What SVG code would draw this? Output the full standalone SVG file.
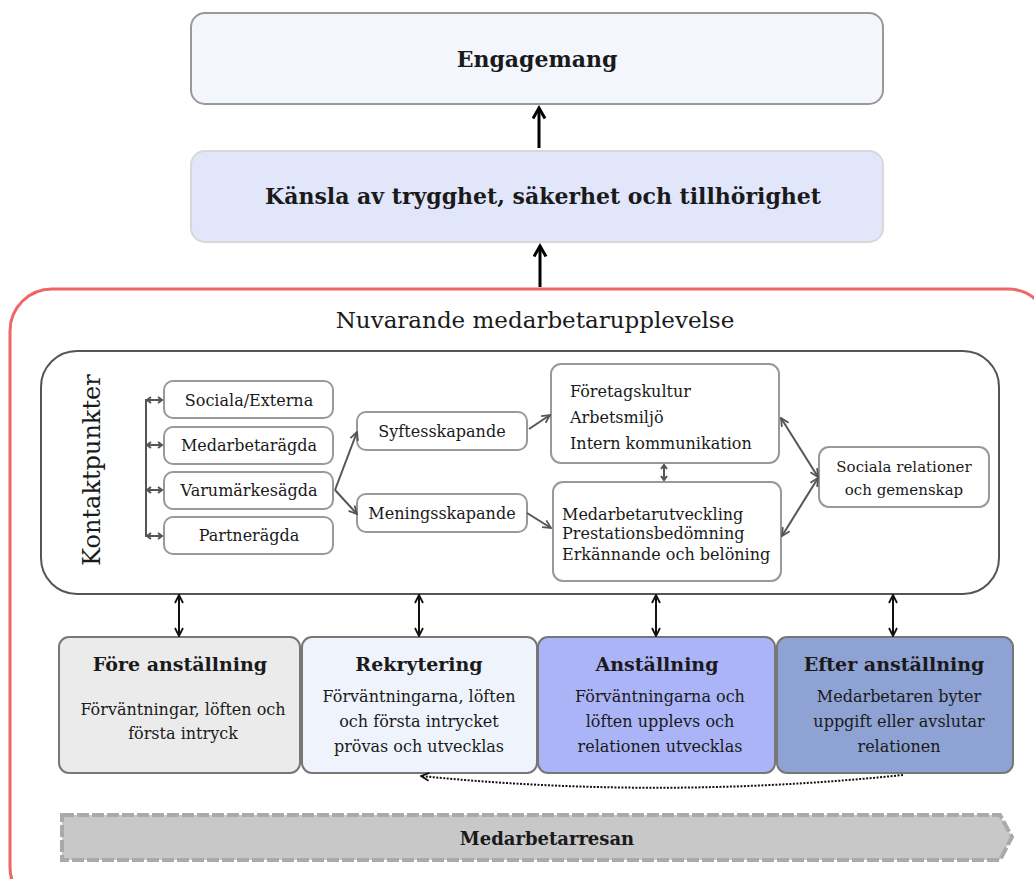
<svg xmlns="http://www.w3.org/2000/svg" width="1034" height="879" viewBox="0 0 1034 879">
<defs>
<style>
text{font-family:"DejaVu Serif","Liberation Serif",serif;fill:#1a1a1a}
.b{font-weight:bold}
.s{font-size:16px}
.c{text-anchor:middle}
.sb{fill:#fff;stroke:#999;stroke-width:2}
.gl{stroke:#555;stroke-width:2;fill:none}
.bk{stroke:#111;stroke-width:2;fill:none}
.ph{stroke:#777;stroke-width:2}
</style>
<marker id="ag" viewBox="0 0 10 10" refX="9" refY="5" markerWidth="5" markerHeight="5" orient="auto-start-reverse"><path d="M1,1 L9,5 L1,9" fill="none" stroke="#555" stroke-width="1.8"/></marker>
<marker id="ab" viewBox="0 0 10 10" refX="9" refY="5" markerWidth="5" markerHeight="5" orient="auto-start-reverse"><path d="M1,1 L9,5 L1,9" fill="none" stroke="#111" stroke-width="1.8"/></marker>
<marker id="abig" viewBox="0 0 10 10" refX="8" refY="5" markerWidth="5" markerHeight="5" orient="auto"><path d="M1,1 L8,5 L1,9" fill="none" stroke="#000" stroke-width="2"/></marker>
</defs>
<rect width="1034" height="879" fill="#fff"/>

<g id="engagemang">
<rect x="191" y="13" width="692" height="91" rx="14" fill="#f3f6fc" stroke="#999" stroke-width="2"/>
<text x="537" y="67" class="b c" font-size="22">Engagemang</text>
</g>
<g id="kansla">
<rect x="191" y="151" width="692" height="91" rx="14" fill="#e1e6fa" stroke="#d8d8d8" stroke-width="2"/>
<text x="543" y="204" class="b c" font-size="22">Känsla av trygghet, säkerhet och tillhörighet</text>
</g>

<g id="nuvarande">
<rect x="10" y="289" width="1040" height="620" rx="42" fill="none" stroke="#ee6666" stroke-width="3"/>
<text x="535" y="328" class="c" font-size="23">Nuvarande medarbetarupplevelse</text>
</g>

<g id="kontaktpunkter">
<rect x="41" y="351" width="958" height="243" rx="36" fill="#fff" stroke="#555" stroke-width="2"/>
<text transform="translate(100,470) rotate(-90)" class="c" font-size="24">Kontaktpunkter</text>
</g>

<g id="sociala-externa"><rect class="sb" x="164" y="381" width="169" height="37" rx="9"/><text x="249" y="406" class="c s">Sociala/Externa</text></g>
<g id="medarbetaragda"><rect class="sb" x="164" y="427" width="169" height="37" rx="9"/><text x="249" y="451" class="c s">Medarbetarägda</text></g>
<g id="varumarkesagda"><rect class="sb" x="164" y="472" width="169" height="37" rx="9"/><text x="249" y="496" class="c s">Varumärkesägda</text></g>
<g id="partneragda"><rect class="sb" x="164" y="517" width="169" height="37" rx="9"/><text x="249" y="541" class="c s">Partnerägda</text></g>

<g id="syftesskapande"><rect class="sb" x="357" y="412" width="170" height="38" rx="9"/><text x="442" y="437" class="c s">Syftesskapande</text></g>
<g id="meningsskapande"><rect class="sb" x="357" y="494" width="170" height="38" rx="9"/><text x="442" y="519" class="c s">Meningsskapande</text></g>

<g id="foretagskultur"><rect class="sb" x="551" y="364" width="228" height="99" rx="10"/>
<text x="570" y="397" class="s">Företagskultur</text>
<text x="570" y="423" class="s">Arbetsmiljö</text>
<text x="570" y="449" class="s">Intern kommunikation</text></g>
<g id="medarbetarutveckling"><rect class="sb" x="553" y="482" width="228" height="99" rx="10"/>
<text x="562" y="520" class="s">Medarbetarutveckling</text>
<text x="562" y="539" class="s">Prestationsbedömning</text>
<text x="562" y="560" class="s">Erkännande och belöning</text></g>
<g id="sociala-relationer"><rect class="sb" x="819" y="447" width="170" height="60" rx="10"/>
<text x="904" y="472" class="c" font-size="15">Sociala relationer</text>
<text x="904" y="495" class="c" font-size="15">och gemenskap</text></g>

<g id="fore"><rect class="ph" x="59" y="637" width="241" height="136" rx="10" fill="#ebebeb"/>
<text x="180" y="671" class="b c" font-size="19">Före anställning</text>
<text x="183" y="715" class="c s">Förväntningar, löften och</text>
<text x="183" y="739" class="c s">första intryck</text></g>
<g id="rekrytering"><rect class="ph" x="302" y="637" width="235" height="136" rx="10" fill="#eff4fc"/>
<text x="419" y="671" class="b c" font-size="19">Rekrytering</text>
<text x="419" y="702" class="c s">Förväntningarna, löften</text>
<text x="419" y="727" class="c s">och första intrycket</text>
<text x="419" y="752" class="c s">prövas och utvecklas</text></g>
<g id="anstallning"><rect class="ph" x="538" y="637" width="237" height="136" rx="10" fill="#aab4f7"/>
<text x="657" y="671" class="b c" font-size="19">Anställning</text>
<text x="660" y="702" class="c s">Förväntningarna och</text>
<text x="660" y="727" class="c s">löften upplevs och</text>
<text x="660" y="752" class="c s">relationen utvecklas</text></g>
<g id="efter"><rect class="ph" x="777" y="637" width="236" height="136" rx="10" fill="#8ea3d3"/>
<text x="894" y="671" class="b c" font-size="19">Efter anställning</text>
<text x="899" y="702" class="c s">Medarbetaren byter</text>
<text x="899" y="727" class="c s">uppgift eller avslutar</text>
<text x="899" y="752" class="c s">relationen</text></g>

<g id="medarbetarresan">
<path d="M62,815 L1000,815 L1012,837 L1000,860 L62,860 Z" fill="#c8c8c8" stroke="#aaa" stroke-width="4" stroke-dasharray="12,3"/>
<text x="547" y="845" class="b c" font-size="18">Medarbetarresan</text>
</g>

<g id="connectors">
<line x1="539" y1="148" x2="539" y2="108" stroke="#000" stroke-width="3" marker-end="url(#abig)"/>
<line x1="540" y1="287" x2="540" y2="246" stroke="#000" stroke-width="3" marker-end="url(#abig)"/>
<line x1="146" y1="399" x2="146" y2="537" class="gl" stroke-width="2.5"/>
<g class="gl" stroke-width="1.8">
<path d="M147,400 H162 M151,397 L147,400 L151,403 M158,397 L162,400 L158,403"/>
<path d="M147,445 H162 M151,442 L147,445 L151,448 M158,442 L162,445 L158,448"/>
<path d="M147,490 H162 M151,487 L147,490 L151,493 M158,487 L162,490 L158,493"/>
<path d="M147,536 H162 M151,533 L147,536 L151,539 M158,533 L162,536 L158,539"/>
<path d="M664,465 V480 M661,469 L664,465 L667,469 M661,476 L664,480 L667,476"/>
</g>
<line x1="335" y1="490" x2="357" y2="432" class="gl" marker-end="url(#ag)"/>
<line x1="335" y1="490" x2="357" y2="514" class="gl" marker-end="url(#ag)"/>
<line x1="529" y1="429" x2="550" y2="415" class="gl" marker-end="url(#ag)"/>
<line x1="527" y1="513" x2="551" y2="528" class="gl" marker-end="url(#ag)"/>
<line x1="818" y1="477" x2="781" y2="418" class="gl" marker-start="url(#ag)" marker-end="url(#ag)"/>
<line x1="818" y1="478" x2="782" y2="536" class="gl" marker-start="url(#ag)" marker-end="url(#ag)"/>
<line x1="179" y1="595" x2="179" y2="636" class="bk" marker-start="url(#ab)" marker-end="url(#ab)"/>
<line x1="419" y1="595" x2="419" y2="636" class="bk" marker-start="url(#ab)" marker-end="url(#ab)"/>
<line x1="656" y1="595" x2="656" y2="636" class="bk" marker-start="url(#ab)" marker-end="url(#ab)"/>
<line x1="893" y1="595" x2="893" y2="636" class="bk" marker-start="url(#ab)" marker-end="url(#ab)"/>
<path d="M903,775 Q660,800 421,776" fill="none" stroke="#111" stroke-width="2" stroke-dasharray="2,1.5" marker-end="url(#ab)"/>
</g>
</svg>
